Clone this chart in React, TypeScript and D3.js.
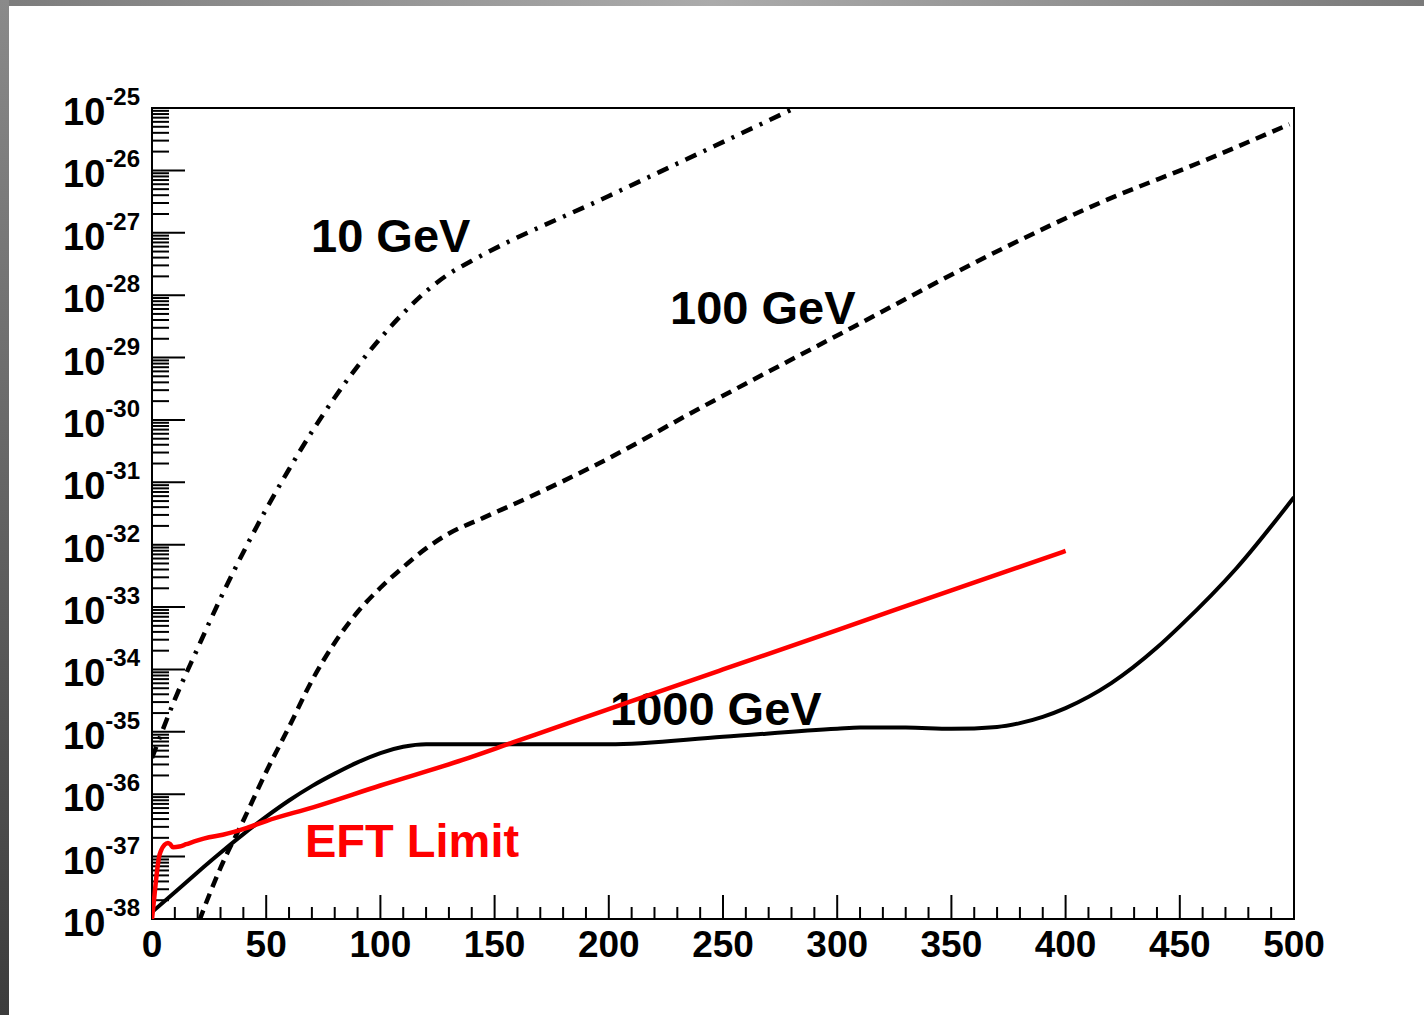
import React from "react";
import * as d3 from "d3";

// ---- data (x in GeV, y = cross section) ----
const mass10X = [0, 10, 20, 30, 40, 50, 60, 70, 80, 90, 100, 110, 120, 130, 140, 200, 281.5, 300];
const mass10Y = [3.8e-36, 3.31e-35, 2.19e-34, 1.38e-33, 7.59e-33, 3.72e-32, 1.62e-31, 6.46e-31, 2.29e-30, 7.24e-30, 2.04e-29, 5.13e-29, 1.15e-28, 2.19e-28, 3.55e-28, 3.89e-27, 1e-25, 2.09e-25];

const mass100X = [18, 21, 30, 40, 50, 60, 70, 80, 90, 100, 110, 120, 130, 145, 165, 196, 240, 306, 371, 415, 459, 498];
const mass100Y = [5.01e-39, 1.0e-38, 6.61e-38, 3.8e-37, 2.29e-36, 1.2e-35, 6.61e-35, 2.69e-34, 8.32e-34, 2.04e-33, 4.37e-33, 8.71e-33, 1.51e-32, 2.69e-32, 5.75e-32, 2.04e-31, 1.55e-30, 2.95e-29, 5.25e-28, 3.02e-27, 1.35e-26, 5.5e-26];

const mass1000X = [0, 10, 20, 30, 40, 50, 60, 70, 80, 90, 100, 110, 120, 150, 200, 250, 300, 310, 330, 350, 370, 380, 390, 400, 420, 440, 450, 475, 500];
const mass1000Y = [1.29e-38, 2.69e-38, 5.62e-38, 1.15e-37, 2.29e-37, 4.37e-37, 7.94e-37, 1.35e-36, 2.14e-36, 3.24e-36, 4.57e-36, 5.75e-36, 6.31e-36, 6.31e-36, 6.31e-36, 8.32e-36, 1.12e-35, 1.17e-35, 1.17e-35, 1.12e-35, 1.2e-35, 1.38e-35, 1.74e-35, 2.4e-35, 6.03e-35, 2.24e-34, 4.9e-34, 4.27e-33, 5.75e-32];

const eftX = [0, 1, 2, 3, 4, 5.5, 7, 8, 9.2, 12, 15, 20, 25, 31, 41.6, 50, 70.5, 100, 136, 158, 187, 209, 250, 300, 350, 400];
const eftY = [1.0e-38, 2.24e-38, 5.01e-38, 9.55e-38, 1.26e-37, 1.55e-37, 1.66e-37, 1.58e-37, 1.41e-37, 1.45e-37, 1.58e-37, 1.82e-37, 2.04e-37, 2.24e-37, 2.88e-37, 3.72e-37, 6.17e-37, 1.38e-36, 3.55e-36, 6.76e-36, 1.58e-35, 3.02e-35, 1.0e-34, 4.27e-34, 1.86e-33, 7.94e-33];

const xTickLabels = ["0", "50", "100", "150", "200", "250", "300", "350", "400", "450", "500"];
const yExponents = [-25, -26, -27, -28, -29, -30, -31, -32, -33, -34, -35, -36, -37, -38];

const labels = [
  { text: "10 GeV", x: 311, y: 252, color: "#000" },
  { text: "100 GeV", x: 670, y: 324, color: "#000" },
  { text: "1000 GeV", x: 610, y: 725, color: "#000" },
];

const W = 1424;
const H = 1015;
const L = 152, R = 1294, T = 108, B = 919;
const FONT = "'Liberation Sans', Arial, Helvetica, sans-serif";

export default function App() {
  const x = d3.scaleLinear().domain([0, 500]).range([L, R]);
  const y = d3.scaleLog().domain([1e-38, 1e-25]).range([B, T]);

  const line = d3
    .line<[number, number]>()
    .x((d) => x(d[0]))
    .y((d) => y(d[1]))
    .curve(d3.curveMonotoneX);

  const zip = (xs: number[], ys: number[]) => xs.map((v, i) => [v, ys[i]] as [number, number]);

  const majorY = yExponents.map((e) => Math.pow(10, e));
  const minorY: number[] = [];
  for (let e = -38; e < -25; e++) {
    for (let m = 2; m <= 9; m++) minorY.push(m * Math.pow(10, e));
  }
  const majorX = xTickLabels.map((t) => +t);
  const minorX = d3.range(0, 501, 10).filter((v) => v % 50 !== 0);

  return (
    <svg
      width={W}
      height={H}
      style={{ position: "absolute", left: 0, top: 0, display: "block" }}
      fontFamily={FONT}
    >
      <defs>
        <linearGradient id="topbar" x1="0" x2="1" y1="0" y2="0">
          <stop offset="0" stopColor="#7c7c7c" />
          <stop offset="0.5" stopColor="#ababab" />
          <stop offset="1" stopColor="#7a7a7a" />
        </linearGradient>
        <linearGradient id="leftbar" x1="0" x2="0" y1="0" y2="1">
          <stop offset="0" stopColor="#8a8a8a" />
          <stop offset="1" stopColor="#3c3c3c" />
        </linearGradient>
        <clipPath id="plotclip">
          <rect x={L} y={T} width={R - L} height={B - T} />
        </clipPath>
      </defs>
      <rect x={0} y={0} width={W} height={H} fill="#fff" />
      <rect x={0} y={0} width={W} height={6} fill="url(#topbar)" />
      <rect x={0} y={0} width={9} height={H} fill="url(#leftbar)" />

      {/* y ticks */}
      {minorY.map((v, i) => (
        <line key={"my" + i} x1={L} x2={L + 17} y1={y(v)} y2={y(v)} stroke="#000" strokeWidth={2} />
      ))}
      {majorY.map((v, i) => (
        <line key={"My" + i} x1={L} x2={L + 33} y1={y(v)} y2={y(v)} stroke="#000" strokeWidth={2} />
      ))}
      {/* x ticks */}
      {minorX.map((v, i) => (
        <line key={"mx" + i} x1={x(v)} x2={x(v)} y1={B} y2={B - 12} stroke="#000" strokeWidth={2} />
      ))}
      {majorX.map((v, i) => (
        <line key={"Mx" + i} x1={x(v)} x2={x(v)} y1={B} y2={B - 24} stroke="#000" strokeWidth={2} />
      ))}

      {/* frame */}
      <rect x={L} y={T} width={R - L} height={B - T} fill="none" stroke="#000" strokeWidth={2} />

      {/* tick labels */}
      {xTickLabels.map((t, i) => (
        <text key={"xl" + i} x={x(majorX[i])} y={957} textAnchor="middle" fontSize={37} fontWeight="bold">
          {t}
        </text>
      ))}
      {yExponents.map((e, i) => (
        <text key={"yl" + i} x={140} y={y(majorY[i]) + 17} textAnchor="end" fontSize={38} fontWeight="bold">
          10
          <tspan fontSize={24} dy={-20}>{String(e)}</tspan>
        </text>
      ))}

      {/* curve labels */}
      {labels.map((l, i) => (
        <text key={"lab" + i} x={l.x} y={l.y} fontSize={47} fontWeight="bold" fill={l.color}>
          {l.text}
        </text>
      ))}

      <g clipPath="url(#plotclip)" fill="none" strokeLinejoin="round">
        <path d={line(zip(mass10X, mass10Y)) || ""} stroke="#000" strokeWidth={4.5} strokeDasharray="12 8 3 8" />
        <path d={line(zip(mass100X, mass100Y)) || ""} stroke="#000" strokeWidth={4.5} strokeDasharray="11 7" />
        <path d={line(zip(mass1000X, mass1000Y)) || ""} stroke="#000" strokeWidth={4} />
        <path d={line(zip(eftX, eftY)) || ""} stroke="#ff0000" strokeWidth={4.5} />
      </g>

      <text x={305} y={857} fontSize={47} fontWeight="bold" fill="#ff0000">
        EFT Limit
      </text>
    </svg>
  );
}
